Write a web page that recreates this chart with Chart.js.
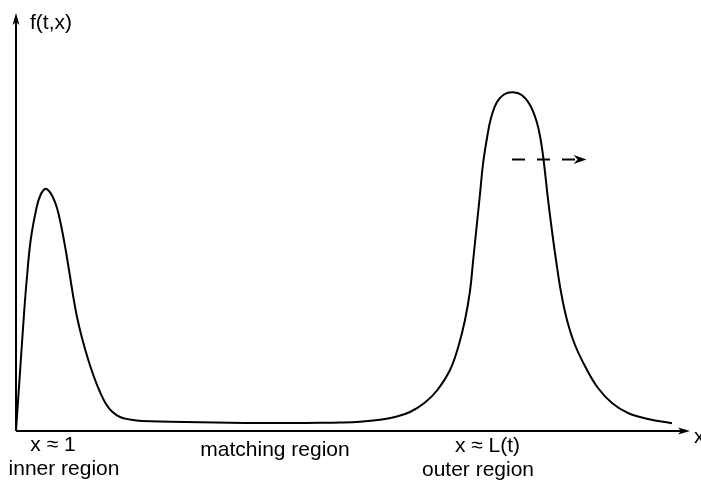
<!DOCTYPE html>
<html>
<head>
<meta charset="utf-8">
<script src="https://cdn.jsdelivr.net/npm/chart.js@4.4.0/dist/chart.umd.min.js"></script>
<style>
  html, body { margin: 0; padding: 0; background: #fff; }
  #wrap { width: 701px; height: 483px; }
</style>
</head>
<body>
<div id="wrap"><canvas id="sketch" width="701" height="483"></canvas></div>
<script>
// profile f(t,x) (x along the axis, y height above it)
const curveX = [0, 4.5, 8.3, 10.7, 14.7, 20.7, 24.5, 29, 33, 37, 41, 45, 49, 53, 57, 61, 66, 72, 78,
  84, 90, 96, 104, 114, 126, 154, 184, 214, 244, 274, 304, 324, 344, 364, 379, 394, 409, 421,
  434, 442.3, 449, 454, 457, 460.5, 464, 467, 471, 475, 481, 488, 496.7, 505.7, 514, 520.7,
  524.7, 528, 531.7, 536, 540, 545, 551, 559, 570, 582, 596, 612, 632, 656];
const curveY = [0, 66, 121, 151, 191, 224, 236, 242, 240, 233.5, 223, 206, 185, 161, 136, 114, 93, 72, 54,
  39, 27, 19.5, 14, 11.5, 10, 9.3, 8.7, 8.2, 8, 8, 8.2, 8.5, 9.3, 11.2, 14, 19, 28.5, 40.5,
  61, 84.3, 111, 140, 169, 203, 237, 267, 293, 313, 329, 336.5, 338.7, 336, 326, 309.3,
  291, 267.7, 234.3, 200, 171, 139, 111, 86, 63, 43, 28, 18, 12, 7.7];

// dashed "moves right" arrow
const arrowX = [496, 559];
const arrowY = [271.5, 271.5];
const arrowTip = 570.5;

// text under the axis
const labelText = ['x \u2248 1', 'inner region', 'matching region', 'x \u2248 L(t)', 'outer region'];
const labelX = [37, 48, 259, 471.5, 462];
const labelY = [-14, -38, -19, -15, -39];

const xMax = 674;
const yMax = 418;

const curvePts = curveX.map((x, i) => ({ x: x, y: curveY[i] }));
const arrowPts = arrowX.map((x, i) => ({ x: x, y: arrowY[i] }));

const FONT = '21px "Liberation Sans", Arial, sans-serif';

// axes with arrow heads + the text
const sketchPlugin = {
  id: 'sketch',
  afterDraw(c) {
    const ctx = c.ctx;
    const a = c.chartArea;
    const xs = c.scales.x, ys = c.scales.y;
    ctx.save();
    ctx.strokeStyle = '#000';
    ctx.fillStyle = '#000';
    ctx.lineWidth = 2;

    // y axis
    ctx.beginPath();
    ctx.moveTo(a.left, a.bottom);
    ctx.lineTo(a.left, a.top + 8);
    ctx.stroke();
    ctx.beginPath();
    ctx.moveTo(a.left, a.top);
    ctx.lineTo(a.left - 3.5, a.top + 12);
    ctx.lineTo(a.left, a.top + 9);
    ctx.lineTo(a.left + 3.5, a.top + 12);
    ctx.closePath();
    ctx.fill();

    // x axis
    ctx.beginPath();
    ctx.moveTo(a.left, a.bottom);
    ctx.lineTo(a.right - 8, a.bottom);
    ctx.stroke();
    ctx.beginPath();
    ctx.moveTo(a.right, a.bottom);
    ctx.lineTo(a.right - 12, a.bottom - 3.5);
    ctx.lineTo(a.right - 9, a.bottom);
    ctx.lineTo(a.right - 12, a.bottom + 3.5);
    ctx.closePath();
    ctx.fill();

    // head of the dashed arrow
    const hx = xs.getPixelForValue(arrowTip);
    const hy = ys.getPixelForValue(arrowY[1]);
    ctx.beginPath();
    ctx.moveTo(hx, hy);
    ctx.lineTo(hx - 13, hy - 4.5);
    ctx.lineTo(hx - 9, hy);
    ctx.lineTo(hx - 13, hy + 4.5);
    ctx.closePath();
    ctx.fill();

    ctx.font = FONT;
    ctx.textBaseline = 'middle';
    ctx.textAlign = 'left';
    ctx.fillText('f(t,x)', a.left + 14, a.top + 10);
    ctx.fillText('x', a.right + 4, a.bottom + 6);

    ctx.textAlign = 'center';
    labelText.forEach((t, i) => {
      ctx.fillText(t, xs.getPixelForValue(labelX[i]), ys.getPixelForValue(labelY[i]));
    });
    ctx.restore();
  }
};

new Chart(document.getElementById('sketch'), {
  type: 'line',
  data: {
    datasets: [
      {
        data: curvePts,
        borderColor: '#000',
        borderWidth: 2,
        pointRadius: 0,
        fill: false,
        tension: 0.4,
        clip: false
      },
      {
        data: arrowPts,
        borderColor: '#000',
        borderWidth: 2,
        borderDash: [13, 12],
        pointRadius: 0,
        fill: false,
        clip: false
      }
    ]
  },
  options: {
    responsive: false,
    animation: false,
    layout: { padding: { left: 16, right: 11, top: 13, bottom: 52 } },
    plugins: { legend: { display: false }, tooltip: { enabled: false } },
    scales: {
      x: { type: 'linear', min: 0, max: xMax, display: false },
      y: { min: 0, max: yMax, display: false }
    }
  },
  plugins: [sketchPlugin]
});
</script>
</body>
</html>
